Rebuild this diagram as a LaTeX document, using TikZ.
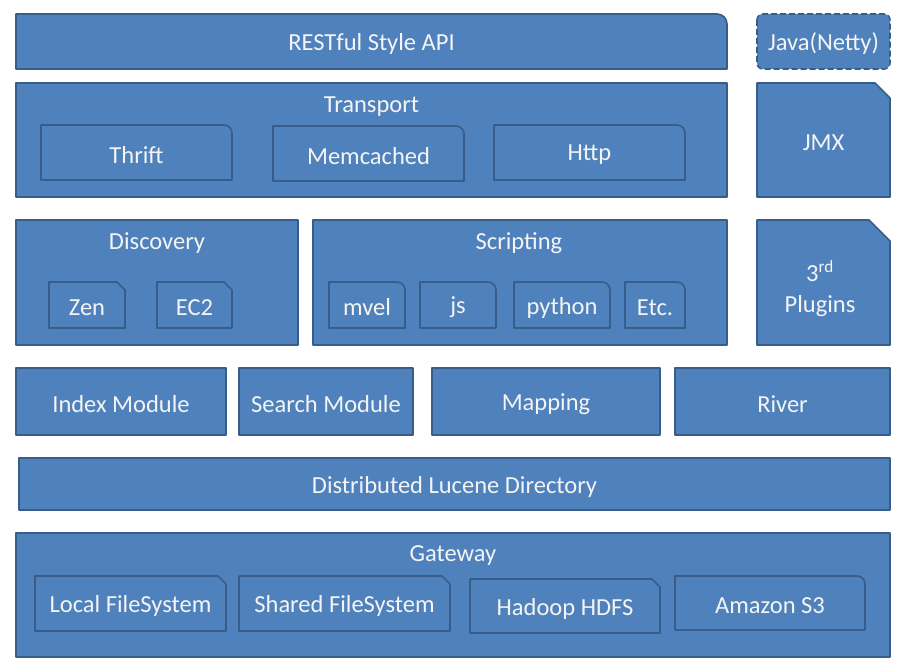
\documentclass[tikz,border=0pt]{standalone}
\usepackage{fontspec}
\setmainfont{Carlito}
\definecolor{boxfill}{HTML}{4F81BD}
\definecolor{boxline}{HTML}{385D8A}
\definecolor{txt}{HTML}{F4F4F4}
\tikzset{
  boxstyle/.style={fill=boxfill,draw=boxline,line width=1.6pt,line join=round},
  lbl/.style={text=txt,inner sep=0pt,font=\fontsize{24.5}{31}\selectfont,align=center,yshift=-2.5pt},
}
% rectangle: name, x1, ytop, x2, ybot, text
\newcommand{\plainbox}[6]{%
  \draw[boxstyle] (#2,{664-#3}) rectangle (#4,{664-#5});
  \node[lbl] (#1) at ({(#2+#4)/2},{664-(#3+#5)/2}) {#6};}
% snipped top-right corner: name, x1, ytop, x2, ybot, cut, text
\newcommand{\snipbox}[7]{%
  \draw[boxstyle] (#2,{664-#5}) -- (#2,{664-#3}) -- ({#4-#6},{664-#3}) -- (#4,{664-#3-#6}) -- (#4,{664-#5}) -- cycle;
  \node[lbl] (#1) at ({(#2+#4)/2},{664-(#3+#5)/2}) {#7};}
% rounded top-right corner: name, x1, ytop, x2, ybot, radius, text
\newcommand{\roundbox}[7]{%
  \draw[boxstyle] (#2,{664-#5}) -- (#2,{664-#3}) -- ({#4-#6},{664-#3}) arc[start angle=90,end angle=0,radius=#6] -- (#4,{664-#5}) -- cycle;
  \node[lbl] (#1) at ({(#2+#4)/2},{664-(#3+#5)/2}) {#7};}
\begin{document}
\begin{tikzpicture}[x=1pt,y=1pt]
\useasboundingbox (0,0) rectangle (903,664);
\fill[white] (0,0) rectangle (903,664);

% row 1
\roundbox{rest}{16}{14}{727}{69}{10}{RESTful Style API}
\draw[boxstyle,dashed,dash pattern=on 6pt off 3pt,rounded corners=6pt] (757,{664-14}) rectangle (890,{664-69});
\node[lbl] (java) at (823.5,{664-41.5}) {Java(Netty)};

% row 2
\plainbox{transport}{16}{83}{727}{197}{}
\node[lbl] (transporttitle) at (371.5,{664-104}) {Transport};
\roundbox{thrift}{41}{125}{232}{180}{8}{Thrift}
\roundbox{memcached}{273}{126}{464}{181}{8}{Memcached}
\roundbox{http}{494}{125}{685}{180}{8}{Http}
\snipbox{jmx}{757}{83}{890}{197}{15}{JMX}

% row 3
\plainbox{discovery}{16}{220}{298}{345}{}
\node[lbl] (discoverytitle) at (157,{664-241}) {Discovery};
\snipbox{zen}{49}{282}{125}{328}{8}{Zen}
\snipbox{ec2}{157}{282}{232}{328}{8}{EC2}
\plainbox{scripting}{313}{220}{727}{345}{}
\node[lbl] (scriptingtitle) at (519,{664-241}) {Scripting};
\roundbox{mvel}{329}{282}{405}{328}{8}{mvel}
\roundbox{js}{420}{282}{496}{328}{8}{js}
\roundbox{python}{514}{282}{610}{328}{8}{python}
\roundbox{etc}{625}{282}{685}{328}{8}{Etc.}
\draw[boxstyle] (757,{664-345}) -- (757,{664-220}) -- (869,{664-220}) -- (890,{664-241}) -- (890,{664-345}) -- cycle;
\node[lbl] (plugins) at (820,{664-286}) {3\textsuperscript{rd}\\Plugins};

% row 4
\plainbox{index}{16}{368}{226}{435}{Index Module}
\plainbox{search}{239}{368}{413}{435}{Search Module}
\plainbox{mapping}{432}{368}{660}{435}{Mapping}
\plainbox{river}{675}{368}{890}{435}{River}

% row 5
\plainbox{lucene}{19}{458}{890}{510}{Distributed Lucene Directory}

% row 6
\plainbox{gateway}{16}{533}{890}{657}{}
\node[lbl] (gatewaytitle) at (453,{664-553}) {Gateway};
\snipbox{localfs}{35}{576}{226}{631}{8}{Local FileSystem}
\snipbox{sharedfs}{239}{576}{450}{631}{8}{Shared FileSystem}
\snipbox{hdfs}{470}{579}{660}{633}{8}{Hadoop HDFS}
\roundbox{s3}{675}{576}{865}{630}{8}{Amazon S3}
\end{tikzpicture}
\end{document}
